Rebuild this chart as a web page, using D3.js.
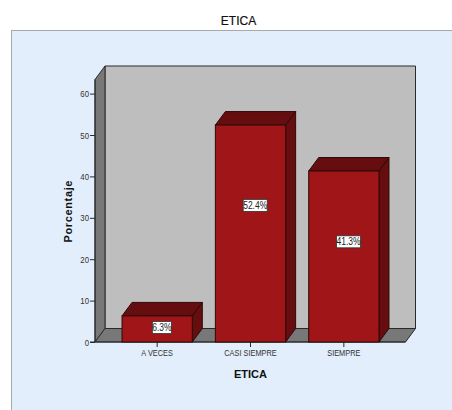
<!DOCTYPE html>
<html>
<head>
<meta charset="utf-8">
<script src="https://cdn.jsdelivr.net/npm/d3@7/dist/d3.min.js"></script>
<style>
html,body{margin:0;padding:0;background:#fff;overflow:hidden}
svg{display:block}
text{font-family:"Liberation Sans",Arial,sans-serif}
</style>
</head>
<body>
<svg id="chart" width="452" height="410"></svg>
<script>
const categories = ["A VECES", "CASI SIEMPRE", "SIEMPRE"];
const percentages = [6.3, 52.4, 41.3];
const valueLabels = ["6.3%", "52.4%", "41.3%"];
const labelLevels = [3.5, 33, 24.2];
const yTicks = [0, 10, 20, 30, 40, 50, 60];

const svg = d3.select("#chart");
const depth = {x: 10, y: 13.5};
const yScale = d3.scaleLinear().domain([0, 60]).range([342, 93.6]);
const xScale = d3.scaleBand().domain(categories).range([110.5, 390.5])
  .paddingInner(0.247).paddingOuter(0.1235);
const leftEdge = 95, rightEdge = 405.5, base = yScale(0), wallTop = 79.5;
const poly = pts => pts.map(p => p.join(",")).join(" ");
const edge = "#2a2a2a";

// Squeezes small labels horizontally, giving the condensed look of the axis text
function condense(sel, factor) {
  sel.each(function () {
    const len = this.getComputedTextLength();
    d3.select(this).attr("textLength", len * factor).attr("lengthAdjust", "spacingAndGlyphs");
  });
}

// Outer panel
svg.append("rect").attr("x", 11.5).attr("y", 30.5).attr("width", 460).attr("height", 400)
  .attr("fill", "#e2eefb").attr("stroke", "#a8a8a8");

// Back wall, side wall and floor of the box
svg.append("polygon").attr("fill", "#bebebe").attr("stroke", edge)
  .attr("points", poly([[leftEdge+depth.x, wallTop-depth.y], [rightEdge+depth.x, wallTop-depth.y],
    [rightEdge+depth.x, base-depth.y], [leftEdge+depth.x, base-depth.y]]));
svg.append("polygon").attr("fill", "#787878").attr("stroke", edge)
  .attr("points", poly([[leftEdge, wallTop], [leftEdge+depth.x, wallTop-depth.y],
    [leftEdge+depth.x, base-depth.y], [leftEdge, base]]));
svg.append("polygon").attr("fill", "#787878").attr("stroke", edge)
  .attr("points", poly([[leftEdge, base], [leftEdge+depth.x, base-depth.y],
    [rightEdge+depth.x, base-depth.y], [rightEdge, base]]));

// Value axis
const yAxis = d3.axisLeft(yScale).tickValues(yTicks).tickSize(5).tickPadding(1);
const yg = svg.append("g").attr("transform", `translate(${leftEdge},0)`).call(yAxis);
yg.select(".domain").attr("stroke", edge).attr("d", `M0,${wallTop}V${base}`);
yg.selectAll("line").attr("stroke", edge);
yg.selectAll("text").attr("fill", "#333").attr("font-size", 9.5).call(condense, 0.82);

// Category axis
const xAxis = d3.axisBottom(xScale).tickSize(5).tickPadding(3);
const xg = svg.append("g").attr("transform", `translate(0,${base})`).call(xAxis);
xg.select(".domain").attr("stroke", edge).attr("d", `M${leftEdge-5},0H${rightEdge}`);
xg.selectAll("line").attr("stroke", edge);
xg.selectAll("text").attr("fill", "#333").attr("font-size", 9).call(condense, 0.82);

// Bars: top, side and front faces
const bars = svg.append("g").selectAll("g").data(categories).join("g");
bars.append("polygon").attr("fill", "#650d0f").attr("stroke", "#2e0a0a")
  .attr("points", (c, i) => {
    const a = xScale(c), b = a + xScale.bandwidth(), t = yScale(percentages[i]);
    return poly([[a, t], [a+depth.x, t-depth.y], [b+depth.x, t-depth.y], [b, t]]);
  });
bars.append("polygon").attr("fill", "#650d0f").attr("stroke", "#2e0a0a")
  .attr("points", (c, i) => {
    const b = xScale(c) + xScale.bandwidth(), t = yScale(percentages[i]);
    return poly([[b, t], [b+depth.x, t-depth.y], [b+depth.x, base-depth.y], [b, base]]);
  });
bars.append("rect").attr("fill", "#a01518").attr("stroke", "#2e0a0a")
  .attr("x", c => xScale(c)).attr("width", xScale.bandwidth())
  .attr("y", (c, i) => yScale(percentages[i]))
  .attr("height", (c, i) => base - yScale(percentages[i]));

// Value labels in white boxes
const boxW = [19, 24, 24];
const labels = svg.append("g").selectAll("g").data(categories).join("g")
  .attr("transform", (c, i) => `translate(${xScale(c) + xScale.bandwidth()/2 + 4.7},${yScale(labelLevels[i])})`);
labels.append("rect").attr("x", (c, i) => -boxW[i]/2).attr("y", -6)
  .attr("width", (c, i) => boxW[i]).attr("height", 12)
  .attr("fill", "#fff").attr("stroke", "#333").attr("stroke-width", 0.8);
labels.append("text").attr("text-anchor", "middle").attr("y", 3.5).attr("font-size", 10)
  .attr("fill", "#222").text((c, i) => valueLabels[i]).call(condense, 0.85);

// Titles
svg.append("text").attr("x", 238.5).attr("y", 24.5).attr("text-anchor", "middle")
  .attr("font-size", 12).attr("fill", "#111").attr("stroke", "#111").attr("stroke-width", 0.2).text("ETICA");
svg.append("text").attr("x", 250.5).attr("y", 378).attr("text-anchor", "middle")
  .attr("font-size", 11).attr("font-weight", "bold").attr("fill", "#111").text("ETICA");
svg.append("text").attr("transform", "translate(71.5,211.5) rotate(-90)").attr("text-anchor", "middle")
  .attr("font-size", 11).attr("font-weight", "bold").attr("fill", "#111")
  .attr("textLength", 62).text("Porcentaje");
</script>
</body>
</html>
